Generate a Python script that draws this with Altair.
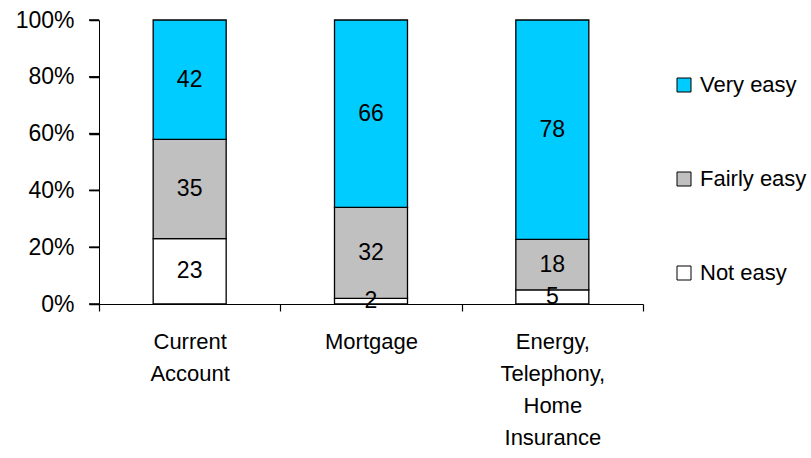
import altair as alt
import pandas as pd

categories = ["Current Account", "Mortgage", "Energy, Telephony, Home Insurance"]
levels = ["Very easy", "Fairly easy", "Not easy"]
stack_rank = {"Not easy": 0, "Fairly easy": 1, "Very easy": 2}
not_easy = [23, 2, 5]
fairly_easy = [35, 32, 18]
very_easy = [42, 66, 78]
colors = ["#00CCFF", "#C0C0C0", "#FFFFFF"]
y_ticks = [0, 0.2, 0.4, 0.6, 0.8, 1.0]

rows = []
for i, c in enumerate(categories):
    for lvl, vals in (("Not easy", not_easy), ("Fairly easy", fairly_easy), ("Very easy", very_easy)):
        rows.append({"category": c, "level": lvl, "value": vals[i], "ord": stack_rank[lvl]})
df = pd.DataFrame(rows)
tick_df = pd.DataFrame({"t": y_ticks})

FONT = "Liberation Sans"
FS = 22
NFS = 23

x_scale = alt.Scale(paddingInner=0, paddingOuter=0)
x_axis = alt.Axis(
    title=None,
    labelAngle=0,
    labelExpr="split(datum.label, ' ')",
    labelLineHeight=32,
    labelPadding=20,
    tickSize=7,
    tickWidth=1.2,
    tickColor="black",
    tickBand="extent",
    labelFontSize=FS,
    labelFont=FONT,
    labelColor="black",
    domainColor="black",
    labelBaseline="top",
)
y_scale = alt.Scale(domain=[0, 1], nice=False)
y_axis = alt.Axis(
    title=None,
    format="%",
    values=y_ticks,
    grid=False,
    ticks=True,
    tickSize=10,
    tickWidth=1.5,
    tickColor="black",
    labelPadding=15,
    labelFontSize=NFS,
    labelFont=FONT,
    labelColor="black",
    domainColor="black",
)

y_tick_marks = alt.Chart(tick_df).mark_tick(
    color="black", size=10, thickness=1.5, orient="horizontal", opacity=1
).encode(
    y=alt.Y("t:Q", scale=y_scale, axis=y_axis),
    x=alt.value(-5),
)

bars = alt.Chart(df).mark_bar(stroke="black", strokeWidth=1.3, size=73).encode(
    x=alt.X("category:N", sort=categories, scale=x_scale, axis=x_axis),
    y=alt.Y("value:Q", stack="normalize", scale=y_scale, axis=y_axis),
    color=alt.Color(
        "level:N",
        scale=alt.Scale(domain=levels, range=colors),
        legend=alt.Legend(
            title=None,
            orient="none",
            legendX=574,
            legendY=54,
            symbolType="square",
            symbolSize=196,
            symbolStrokeColor="black",
            symbolStrokeWidth=1,
            symbolOpacity=1,
            labelFontSize=FS,
            labelFont=FONT,
            labelColor="black",
            labelOffset=5,
            rowPadding=72,
            padding=0,
        ),
    ),
    order=alt.Order("ord:Q"),
)

labels = (
    alt.Chart(df)
    .transform_joinaggregate(total="sum(value)", groupby=["category"])
    .transform_window(cum="sum(value)", sort=[alt.SortField("ord")], groupby=["category"])
    .transform_calculate(mid="(datum.cum - datum.value / 2) / datum.total")
    .mark_text(fontSize=NFS, font=FONT, color="black", baseline="middle", align="center")
    .encode(
        x=alt.X("category:N", sort=categories, scale=x_scale, axis=x_axis),
        y=alt.Y("mid:Q", scale=y_scale, axis=y_axis),
        text="value:Q",
    )
)

chart = (
    alt.layer(y_tick_marks, bars, labels)
    .properties(
        width=544,
        height=284,
        autosize=alt.AutoSizeParams(type="none"),
        padding={"left": 99, "top": 20, "right": 168, "bottom": 154},
        background="white",
    )
    .configure_view(stroke=None)
)

chart.save("out.html", embed_options={"renderer": "svg", "actions": False})
